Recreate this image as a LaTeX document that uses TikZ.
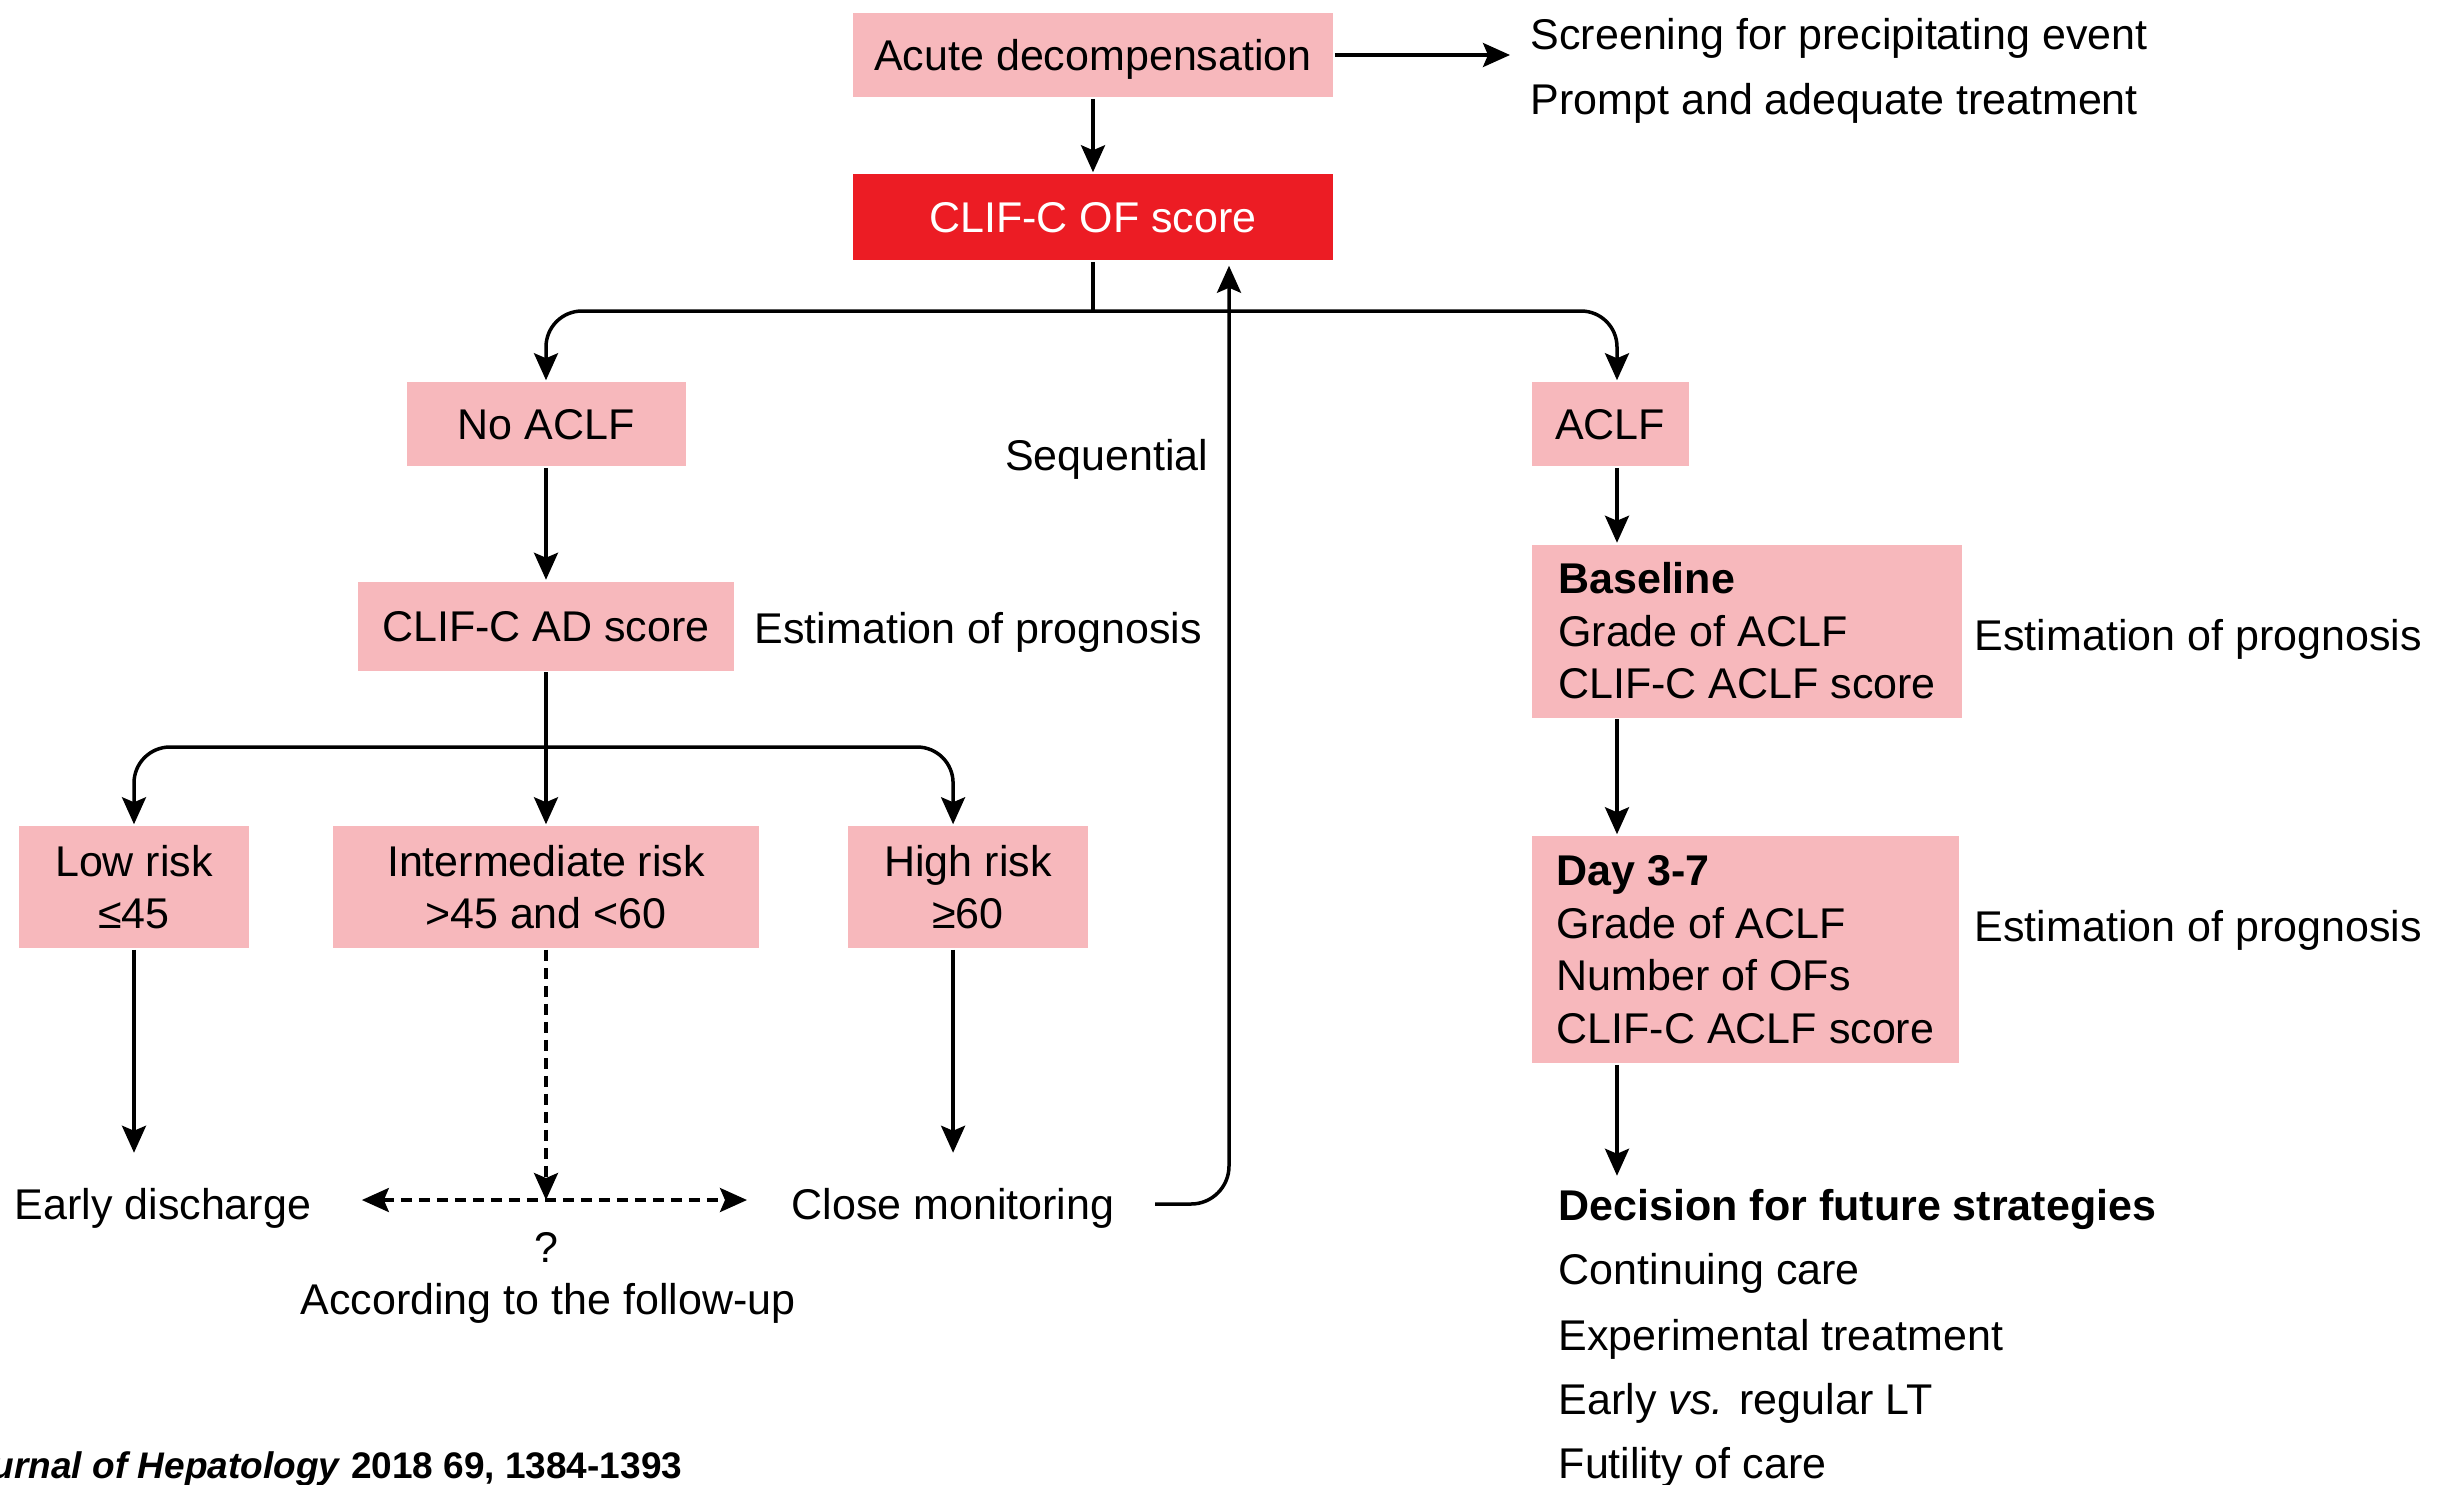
\documentclass[tikz,border=0pt]{standalone}
\usepackage{fontspec}
\setmainfont{Liberation Sans}
\usetikzlibrary{arrows.meta}
\definecolor{pinkbox}{RGB}{247,184,188}
\definecolor{redbox}{RGB}{236,28,36}
\newcommand\fsz{\fontsize{43}{52.5}\selectfont}
\newcommand\fsj{\fontsize{37}{44}\selectfont}
\begin{document}
\begin{tikzpicture}[x=1pt,y=-1pt,
  line width=3.5pt,
  arr/.style={-{Stealth[length=27pt,width=24pt,inset=5pt]}},
  darr/.style={{Stealth[length=27pt,width=24pt,inset=5pt]}-{Stealth[length=27pt,width=24pt,inset=5pt]}, dash pattern=on 11pt off 7pt},
  dsh/.style={dash pattern=on 11pt off 7pt},
  sbox/.style={fill=pinkbox, inner sep=0pt, font=\fsz, text height=31pt, text depth=0pt},
  mbox/.style={fill=pinkbox, inner sep=0pt, font=\fsz, align=center},
  lbox/.style={fill=pinkbox, inner sep=0pt, font=\fsz, align=left},
  txt/.style={inner sep=0pt, font=\fsz, text height=31pt, text depth=0pt},
  corner/.style={rounded corners=36pt}
]
\path[use as bounding box] (0,0) rectangle (2454,1484);

% boxes
\node[sbox, minimum width=480pt, minimum height=84pt] (ad) at (1093,55) {Acute decompensation};
\node[sbox, fill=redbox, text=white, minimum width=480pt, minimum height=86pt] (of) at (1093,217) {CLIF-C OF score};
\node[txt, anchor=west] (scr) at (1529,34) {Screening for precipitating event};
\node[txt, anchor=west] (prm) at (1529,99) {Prompt and adequate treatment};
\node[sbox, minimum width=279pt, minimum height=84pt] (noaclf) at (546,424) {No ACLF};
\node[sbox, minimum width=376pt, minimum height=89pt] (adsc) at (546,626) {CLIF-C AD score};
\node[txt, anchor=west] (est1) at (753,628) {Estimation of prognosis};
\node[txt, anchor=east] (seq) at (1210,455) {Sequential};
\node[mbox, minimum width=230pt, minimum height=122pt] (low) at (134,887) {Low risk\\≤45};
\node[mbox, minimum width=426pt, minimum height=122pt] (inter) at (546,887) {Intermediate risk\\>45 and <60};
\node[mbox, minimum width=240pt, minimum height=122pt] (high) at (968,887) {High risk\\≥60};
\node[txt, anchor=west] (ed) at (13,1204) {Early discharge};
\node[txt, anchor=west] (cm) at (790,1204) {Close monitoring};
\node[txt] (q) at (546,1247) {?};
\node[txt] (acc) at (548,1299) {According to the follow-up};
\node[sbox, minimum width=157pt, minimum height=84pt] (aclf) at (1610,424) {ACLF};
\node[lbox, minimum width=430pt, minimum height=173pt] (base) at (1747,631) {\textbf{Baseline}\\Grade of ACLF\\CLIF-C ACLF score};
\node[txt, anchor=west] (est2) at (1973,635) {Estimation of prognosis};
\node[lbox, minimum width=427pt, minimum height=227pt] (day) at (1745.5,949.5) {\textbf{Day 3-7}\\Grade of ACLF\\Number of OFs\\CLIF-C ACLF score};
\node[txt, anchor=west] (est3) at (1973,926) {Estimation of prognosis};
\node[txt, anchor=west, font=\fsz\bfseries] (dec) at (1557,1205) {Decision for future strategies};
\node[txt, anchor=west] (c1) at (1557,1269) {Continuing care};
\node[txt, anchor=west] (c2) at (1557,1335) {Experimental treatment};
\node[txt, anchor=west] (c3) at (1557,1399) {Early \textit{vs.} regular LT};
\node[txt, anchor=west] (c4) at (1557,1463) {Futility of care};
\node[inner sep=0pt, anchor=east, font=\fsj\bfseries, text height=27pt, text depth=0pt] (jr) at (684,1465) {\textit{Journal of Hepatology} 2018 69, 1384-1393};

% helper coordinates
\coordinate (ax) at (1617,0);
\coordinate (ux) at (1229,0);
\coordinate (j1) at (1093,311);
\coordinate (j2) at (546,747);
\coordinate (dj) at (546,1200);

% connectors
\draw[arr] (ad.south) -- (of.north);
\draw[arr, shorten >=19pt] (ad.east) -- (ad.east -| scr.west);
\draw (of.south) -- (j1);
\draw[arr, corner] (j1) -| (noaclf.north);
\draw[arr, corner] (j1) -| (ax |- aclf.north);
\draw[arr] (noaclf.south) -- (adsc.north);
\draw[arr] (adsc.south) -- (inter.north);
\draw[arr, corner] (j2) -| (low.north);
\draw[arr, corner] (j2) -| (cm.north |- high.north);
\draw[arr, shorten >=34pt] (low.south) -- (low.south |- ed.north);
\draw[arr, shorten >=34pt] (cm.north |- high.south) -- (cm.north);
\draw[arr, dsh] (inter.south) -- (dj);
\draw[darr] ([xshift=49pt,yshift=4pt]ed.east) -- ([xshift=-43pt,yshift=4pt]cm.west);
\draw[arr, rounded corners=38pt, shorten >=4pt] ([xshift=39pt]cm.east) -| (ux |- of.south);
\draw[arr] (ax |- aclf.south) -- (ax |- base.north);
\draw[arr] (ax |- base.south) -- (ax |- day.north);
\draw[arr, shorten >=12pt] (ax |- day.south) -- (ax |- dec.north);
\end{tikzpicture}
\end{document}
